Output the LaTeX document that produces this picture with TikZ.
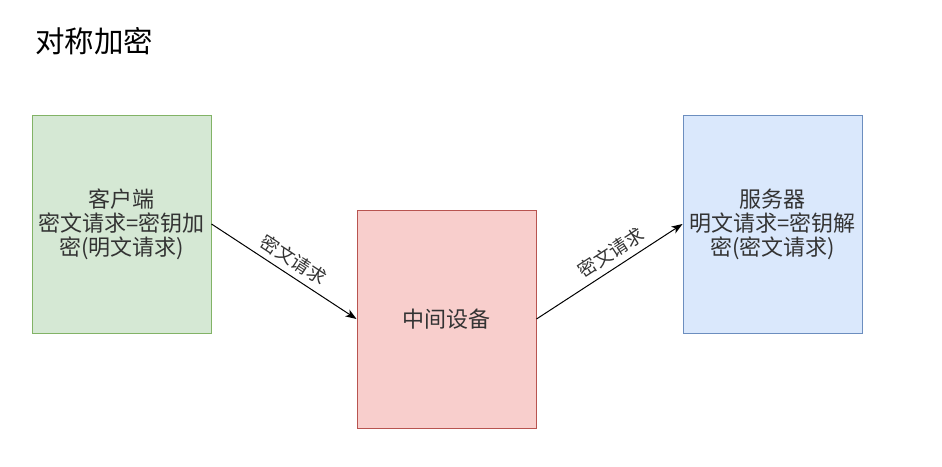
\documentclass[tikz,border=0pt]{standalone}
\usepackage{fontspec}
\setmainfont{Noto Sans CJK SC}
\usetikzlibrary{arrows.meta}
\definecolor{gfill}{HTML}{D5E8D4}\definecolor{gline}{HTML}{82B366}
\definecolor{rfill}{HTML}{F8CECC}\definecolor{rline}{HTML}{B85450}
\definecolor{bfill}{HTML}{DAE8FC}\definecolor{bline}{HTML}{6C8EBF}
\definecolor{txt}{HTML}{333333}
\begin{document}
\begin{tikzpicture}[x=1pt,y=-1pt,
  box/.style={draw, line width=1pt, minimum width=179pt, minimum height=218pt, inner sep=0pt,
    align=center, text=txt, font=\fontsize{22}{24}\selectfont},
  conn/.style={line width=1pt, -{Stealth[length=11pt,width=8pt,inset=3pt]}},
  lbl/.style={text=txt, font=\fontsize{18.5}{20}\selectfont, inner sep=0pt}]
\useasboundingbox (0,0) rectangle (942,466);
\node[anchor=west, text=black, font=\fontsize{29.5}{32}\selectfont, inner sep=0pt] (title) at (35,41) {对称加密};
\node[box, fill=gfill, draw=gline] (client) at (121.5,224) {客户端\\密文请求=密钥加\\密(明文请求)};
\node[box, fill=rfill, draw=rline] (mid) at (446.5,319) {中间设备};
\node[box, fill=bfill, draw=bline] (server) at (772.5,224) {服务器\\明文请求=密钥解\\密(密文请求)};
\draw[conn] (client.east) -- node[lbl, sloped, above=6pt, pos=0.51] (l1) {密文请求} (mid.west);
\draw[conn] (mid.east) -- node[lbl, sloped, above=6pt, pos=0.565] (l2) {密文请求} (server.west);
\end{tikzpicture}
\end{document}
